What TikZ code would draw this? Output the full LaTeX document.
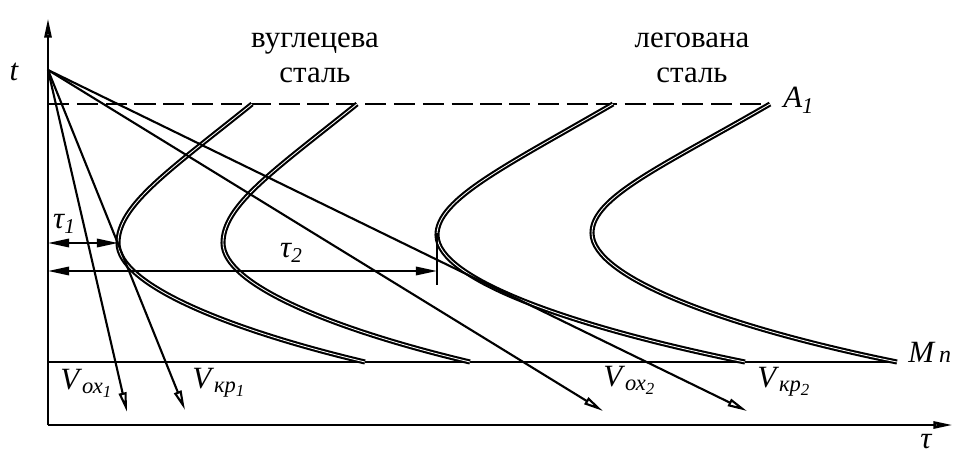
\documentclass[tikz,border=0pt]{standalone}
\usepackage{fontspec}
\setmainfont{Liberation Serif}
\usetikzlibrary{arrows.meta}
\newcommand{\vlab}[2]{\textit{V}\raisebox{-0.3ex}{\fontsize{16}{16}\selectfont\itshape #1\raisebox{-0.35ex}{\fontsize{12}{12}\selectfont #2}}}
\newcommand{\tlab}[1]{\textit{τ}\raisebox{-0.4ex}{\fontsize{15}{15}\selectfont\itshape #1}}

\begin{document}
\begin{tikzpicture}[x=0.025cm, y=-0.025cm, font=\fontsize{22}{25}\selectfont,
    ax/.style={line width=2pt, -{Triangle[open, length=14pt, width=5pt]}},
    cl/.style={line width=1.5pt, -{Triangle[open, length=14pt, width=5.5pt]}},
    cc/.style={double, double distance=0.6pt, line width=1.5pt},
    tm/.style={line width=1.4pt, {Triangle[length=15pt, width=6pt]}-{Triangle[length=15pt, width=6pt]}},
    lb/.style={inner sep=0pt, font=\fontsize{22}{25}\selectfont\itshape}]
  \useasboundingbox (0,0) rectangle (954,459);
  \coordinate (O) at (48,425); \coordinate (ytop) at (48,18); \coordinate (xend) at (953,425);
  \coordinate (S) at (48,70);
  \coordinate (a0) at (48,104); \coordinate (m0) at (48,362);
  \coordinate (t1) at (252,104); \coordinate (n1) at (118,243); \coordinate (e1) at (365,362);
  \coordinate (t2) at (357,104); \coordinate (n2) at (223,243); \coordinate (e2) at (470,362);
  \coordinate (t3) at (613,104); \coordinate (n3) at (437,235); \coordinate (e3) at (745,362);
  \coordinate (t4) at (770,104); \coordinate (n4) at (592,233); \coordinate (e4) at (897,362);
  \coordinate (k1) at (127,412); \coordinate (k2) at (185,410);
  \coordinate (k3) at (603,411); \coordinate (k4) at (747,411);
  \coordinate (p1) at (48,243); \coordinate (p2) at (48,271); \coordinate (q2) at (437,271);
  \coordinate (u1) at (437,233); \coordinate (u2) at (437,285);

  \draw[ax] (O) -- (ytop); \draw[ax] (O) -- (xend);
  \draw[line width=1.5pt, dash pattern=on 15pt off 5.5pt] (a0) -- (t4);
  \draw[line width=1.6pt] (m0) -- (e4);

  \draw[cc] (t1) .. controls +(-82,66) and +(0,-38) .. (n1) .. controls +(0,42) and +(-135,-32) .. (e1);
  \draw[cc] (t2) .. controls +(-82,66) and +(0,-38) .. (n2) .. controls +(0,42) and +(-135,-32) .. (e2);
  \draw[cc] (t3) .. controls +(-107,62) and +(0,-36) .. (n3) .. controls +(0,45) and +(-168,-34) .. (e3);
  \draw[cc] (t4) .. controls +(-107,62) and +(0,-36) .. (n4) .. controls +(0,45) and +(-168,-34) .. (e4);

  \draw[cl] (S) -- (k1); \draw[cl] (S) -- (k2);
  \draw[cl] (S) -- (k3); \draw[cl] (S) -- (k4);

  \draw[tm] (p1) -- (n1); \draw[tm] (p2) -- (q2);
  \draw[line width=1.4pt] (u1) -- (u2);

  \node[align=center, inner sep=0pt] (cs) at (315,58) {вуглецева\\сталь};
  \node[align=center, inner sep=0pt] (ls) at (692,58) {легована\\сталь};
  \node[lb] (tl) at (14,72) {t};
  \node[lb] (tau) at (926,442) {τ};
  \node[lb, anchor=west] (A1) at (783,100) {A\raisebox{-0.4ex}{\fontsize{16}{16}\selectfont 1}};
  \node[lb, anchor=west] (Mn) at (908,352) {M\,{\fontsize{17}{17}\selectfont n}};
  \node[lb] (tau1) at (64,224) {\tlab{1}};
  \node[lb] (tau2) at (291,253) {\tlab{2}};
  \node[anchor=west, inner sep=0pt] (vo1) at (60,383) {\vlab{ох}{1}};
  \node[anchor=west, inner sep=0pt] (vk1) at (192,383) {\vlab{кр}{1}};
  \node[anchor=west, inner sep=0pt] (vo2) at (603,380) {\vlab{ох}{2}};
  \node[anchor=west, inner sep=0pt] (vk2) at (757,382) {\vlab{кр}{2}};
\end{tikzpicture}
\end{document}
